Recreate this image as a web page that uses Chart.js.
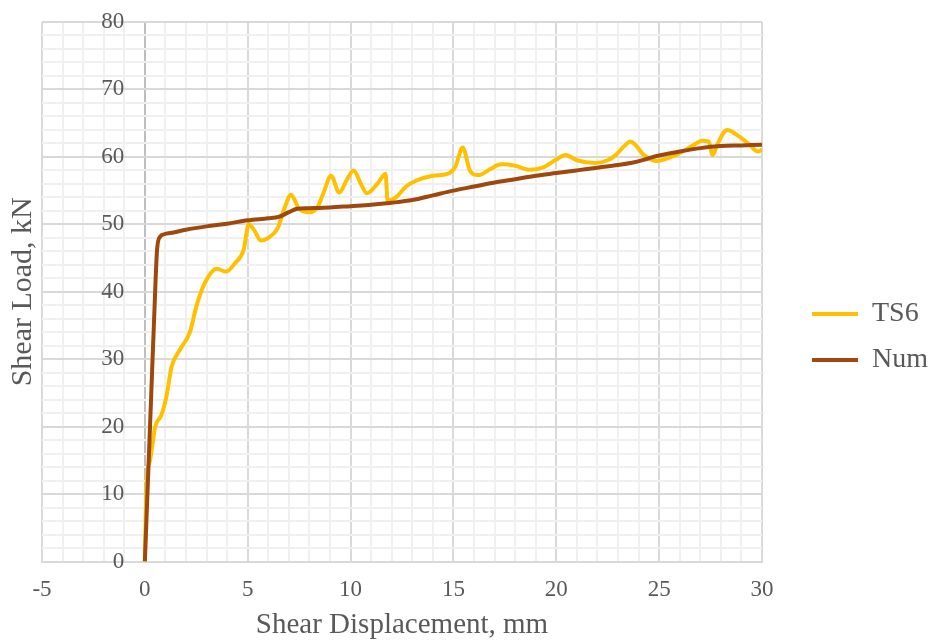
<!DOCTYPE html>
<html>
<head>
<meta charset="utf-8">
<script src="https://cdn.jsdelivr.net/npm/chart.js@4"></script>
<style>
    html, body { margin: 0; padding: 0; background: #ffffff; }
    #wrap { width: 932px; height: 644px; position: relative; }
</style>
</head>
<body>
<div id="wrap"><canvas id="shearChart"></canvas></div>
<script>
// Test TS6 – shear displacement (mm) vs shear load (kN)
const ts6X = [0, 0.05, 0.12, 0.25, 0.4, 0.5, 0.8, 1.05, 1.3, 1.7, 2.2, 2.5, 2.9, 3.5, 3.95, 4.4, 4.8, 5.05, 5.3, 5.65,
    6.0, 6.45, 6.8, 7.1, 7.5, 8.0, 8.4, 8.7, 9.05, 9.45, 9.8, 10.15, 10.5, 10.8, 11.3, 11.7, 11.8, 12.2, 12.7, 13.2,
    14.0, 14.8, 15.1, 15.45, 15.8, 16.2, 16.8, 17.3, 18.0, 18.7, 19.4, 20.0, 20.45, 21.0, 21.9, 22.5, 22.9, 23.3, 23.6, 23.9,
    24.25, 24.9, 25.4, 25.9, 26.6, 27.1, 27.4, 27.6, 27.85, 28.3, 28.9, 29.4, 29.8, 30];
const ts6Y = [0, 8, 13, 15, 18, 20, 21.7, 24.5, 28.9, 31.4, 34.1, 37.8, 41.2, 43.4, 43.0, 44.3, 46.2, 50.0, 49.2, 47.6,
    48.0, 49.4, 52.5, 54.4, 52.3, 51.8, 52.6, 54.8, 57.2, 54.7, 56.5, 58.0, 56.0, 54.6, 56.0, 57.5, 53.5, 54.0, 55.6, 56.5,
    57.2, 57.6, 58.6, 61.4, 58.0, 57.3, 58.2, 58.9, 58.7, 58.1, 58.5, 59.6, 60.3, 59.5, 59.1, 59.5, 60.3, 61.6, 62.3, 61.6,
    60.3, 59.4, 59.8, 60.4, 61.6, 62.4, 62.3, 60.3, 62.0, 64.0, 63.0, 61.8, 60.8, 61.1];

// Numerical model
const numX = [0, 0.15, 0.3, 0.45, 0.6, 0.75, 0.9, 1.4, 2, 3, 4, 5, 6, 6.5, 7, 7.4, 8, 9, 10, 11, 12, 13, 14, 15,
    16, 17, 18, 19, 20, 21, 22, 23, 23.8, 24.5, 25, 26, 27, 28, 29, 30];
const numY = [0, 12, 24, 36, 46.5, 48.2, 48.5, 48.8, 49.2, 49.7, 50.1, 50.6, 50.9, 51.1, 51.8, 52.3, 52.4, 52.5, 52.7, 52.9,
    53.2, 53.6, 54.3, 55.0, 55.6, 56.2, 56.7, 57.2, 57.6, 58.0, 58.4, 58.8, 59.2, 59.8, 60.2, 60.8, 61.3, 61.6, 61.7, 61.8];

const seriesNames = ["TS6", "Num"];
const seriesColors = ["#FFC000", "#9E480E"];

const xTitle = "Shear Displacement, mm";
const yTitle = "Shear Load, kN";

const FONT = "'Liberation Serif', 'Times New Roman', serif";
const TEXT = "#595959";

function toPoints(xs, ys) {
    return xs.map((x, i) => ({ x, y: ys[i] }));
}

// major lines every 5 mm / 10 kN, light minor lines in between
function xGridColor(ctx) {
    const v = ctx.tick ? ctx.tick.value : null;
    if (v === 0) return "#BFBFBF";
    return v % 5 === 0 ? "#D9D9D9" : "#F0F0F0";
}
function yGridColor(ctx) {
    const v = ctx.tick ? ctx.tick.value : null;
    return v % 10 === 0 ? "#D9D9D9" : "#F0F0F0";
}

new Chart(document.getElementById("shearChart"), {
    type: "line",
    data: {
        datasets: [
            {
                label: seriesNames[0],
                data: toPoints(ts6X, ts6Y),
                borderColor: seriesColors[0],
                backgroundColor: seriesColors[0],
                borderWidth: 4,
                pointRadius: 0,
                cubicInterpolationMode: "monotone",
                order: 2,
            },
            {
                label: seriesNames[1],
                data: toPoints(numX, numY),
                borderColor: seriesColors[1],
                backgroundColor: seriesColors[1],
                borderWidth: 4,
                pointRadius: 0,
                cubicInterpolationMode: "monotone",
                order: 1,
            },
        ],
    },
    options: {
        responsive: true,
        maintainAspectRatio: false,
        animation: false,
        layout: { padding: { top: 22, right: -6, bottom: -8, left: 0 } },
        plugins: {
            tooltip: { enabled: false },
            legend: {
                position: "right",
                maxWidth: 200,
                labels: {
                    usePointStyle: true,
                    pointStyle: "line",
                    pointStyleWidth: 46,
                    padding: 18,
                    color: TEXT,
                    font: { family: FONT, size: 28 },
                    sort: (a, b) => a.datasetIndex - b.datasetIndex,
                },
            },
        },
        scales: {
            x: {
                type: "linear",
                min: -5,
                max: 30,
                ticks: {
                    stepSize: 1,
                    autoSkip: false,
                    maxRotation: 0,
                    padding: 15,
                    color: TEXT,
                    font: { family: FONT, size: 23 },
                    callback: (v) => (v % 5 === 0 ? v : ""),
                },
                grid: { color: xGridColor, lineWidth: 2, drawTicks: false },
                border: { color: "#D9D9D9", width: 2 },
                title: {
                    display: true,
                    text: xTitle,
                    color: TEXT,
                    font: { family: FONT, size: 29 },
                    padding: { top: -11, bottom: 9 },
                },
            },
            // value axis crosses just left of x = 0 so labels sit beside the zero line
            y: {
                type: "linear",
                position: { x: -1 },
                min: 0,
                max: 80,
                ticks: {
                    stepSize: 2,
                    autoSkip: false,
                    color: TEXT,
                    font: { family: FONT, size: 23 },
                    callback: (v) => (v % 10 === 0 ? v : ""),
                },
                grid: { color: yGridColor, lineWidth: 2, drawTicks: false },
                border: { display: false },
            },
            // carries only the y title at the far left
            yTitle: {
                type: "linear",
                position: "left",
                min: 0,
                max: 80,
                ticks: { display: false },
                grid: { display: false, drawTicks: false },
                border: { display: false },
                title: {
                    display: true,
                    text: yTitle,
                    color: TEXT,
                    font: { family: FONT, size: 30 },
                    padding: { top: 5, bottom: 1 },
                },
            },
            // empty gap between the plot and the legend
            gapRight: {
                type: "linear",
                position: "right",
                min: 0,
                max: 80,
                ticks: { display: false },
                grid: { display: false, drawTicks: false },
                border: { display: false },
                afterFit: (scale) => { scale.width = 32; },
            },
        },
    },
});
</script>
</body>
</html>
